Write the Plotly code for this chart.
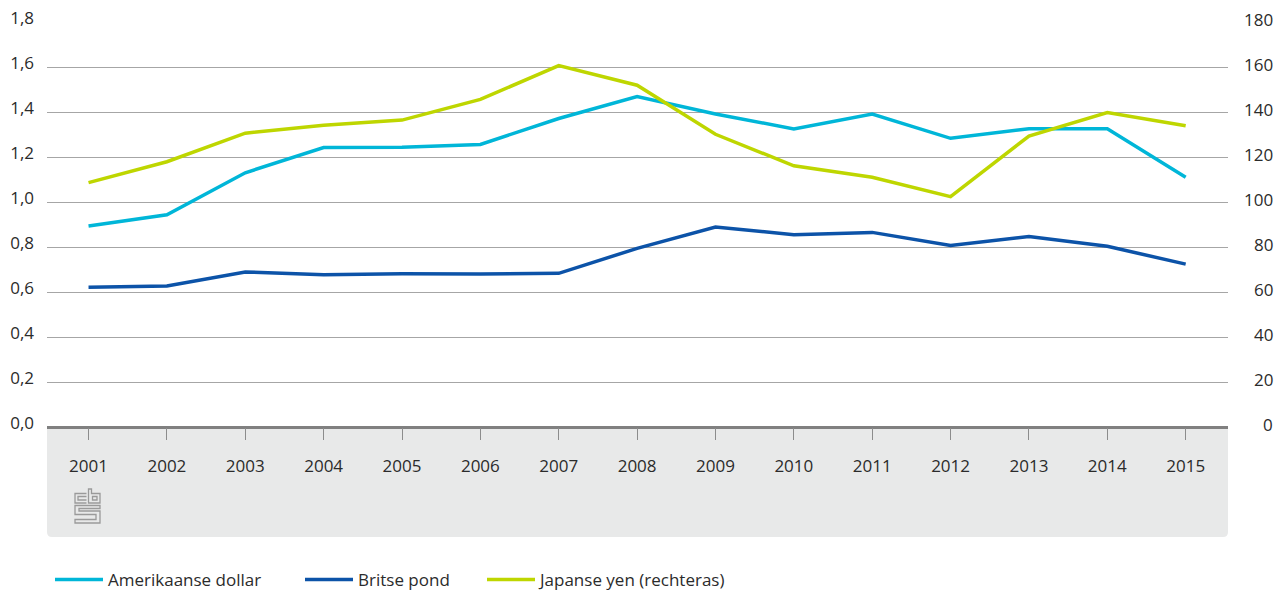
import plotly.graph_objects as go

years = [2001, 2002, 2003, 2004, 2005, 2006, 2007, 2008, 2009, 2010, 2011, 2012, 2013, 2014, 2015]
dollar = [0.893, 0.943, 1.130, 1.242, 1.243, 1.256, 1.371, 1.469, 1.391, 1.325, 1.391, 1.283, 1.326, 1.326, 1.110]
pond = [0.621, 0.627, 0.689, 0.677, 0.681, 0.680, 0.683, 0.794, 0.889, 0.855, 0.865, 0.807, 0.847, 0.803, 0.724]
yen = [108.6, 117.9, 130.6, 134.1, 136.4, 145.6, 160.6, 151.9, 130.1, 116.1, 111.0, 102.4, 129.3, 139.8, 133.9]

left_ticks = [0, 0.2, 0.4, 0.6, 0.8, 1.0, 1.2, 1.4, 1.6, 1.8]
right_ticks = [0, 20, 40, 60, 80, 100, 120, 140, 160, 180]

names = ["Amerikaanse dollar", "Britse pond", "Japanse yen (rechteras)"]
colors = ["#00B6D8", "#0C53A8", "#BED600"]
legend_widths = [187, 119, 200]

W, H = 1277, 592
PL, PR, PT, PB = 47, 1228, 22, 427          # plot area in pixels
L, R, T, B = PL, W - PR, PT, H - PB
PW = W - L - R
PH = H - T - B
FONT = "Open Sans"
FS = 17
TXT = "#2b2b2b"


def px(x):
    return (x - L) / PW


def py(y):
    return (PB - y) / PH


fig = go.Figure()
fig.add_trace(go.Scatter(x=years, y=dollar, name=names[0], mode="lines", legendwidth=legend_widths[0],
                         line=dict(color=colors[0], width=3.5)))
fig.add_trace(go.Scatter(x=years, y=pond, name=names[1], mode="lines", legendwidth=legend_widths[1],
                         line=dict(color=colors[1], width=3.5)))
fig.add_trace(go.Scatter(x=years, y=yen, name=names[2], mode="lines", yaxis="y2", legendwidth=legend_widths[2],
                         line=dict(color=colors[2], width=3.5)))

shapes = []
# grey band under the x axis with rounded bottom corners
x0, x1, y0, y1, r = 47, 1228, 427, 537, 5
band = (f"M {px(x0)} {py(y0)} L {px(x1)} {py(y0)} L {px(x1)} {py(y1 - r)} "
        f"Q {px(x1)} {py(y1)} {px(x1 - r)} {py(y1)} L {px(x0 + r)} {py(y1)} "
        f"Q {px(x0)} {py(y1)} {px(x0)} {py(y1 - r)} Z")
shapes.append(dict(type="path", xref="paper", yref="paper", path=band,
                   fillcolor="#E8E9E9", line=dict(width=0), layer="below"))


def poly(pts, closed=False):
    s = "M " + " L ".join(f"{px(a)} {py(b)}" for a, b in pts)
    return s + (" Z" if closed else "")


logo_paths = [
    poly([(86.5, 493.5), (75, 493.5), (75, 503), (86.5, 503)]),
    poly([(86.5, 496.5), (78, 496.5), (78, 500), (86.5, 500)]),
    poly([(88.5, 489), (88.5, 503), (100, 503), (100, 493.5), (91.5, 493.5), (91.5, 489)], True),
    poly([(92.5, 496.5), (97, 496.5), (97, 500), (92.5, 500)], True),
    poly([(100, 505.5), (75, 505.5), (75, 514.5), (96, 514.5), (96, 519.5), (75, 519.5),
          (75, 523), (100, 523), (100, 511), (79, 511), (79, 508.5), (100, 508.5)], True),
]
for p in logo_paths:
    shapes.append(dict(type="path", xref="paper", yref="paper", path=p,
                       line=dict(color="#9a9a9a", width=1.3)))

annotations = []
for t in right_ticks:
    annotations.append(dict(x=px(1275), y=t, xref="paper", yref="y2", text=str(t),
                            showarrow=False, xanchor="right", yanchor="middle", yshift=3,
                            font=dict(family=FONT, size=FS, color=TXT)))

fig.update_layout(
    width=W, height=H,
    margin=dict(l=L, r=R, t=T, b=B, autoexpand=False),
    paper_bgcolor="white", plot_bgcolor="white",
    separators=",.",
    font=dict(family=FONT, size=FS, color=TXT),
    xaxis=dict(range=[2000.47, 2015.54], tickmode="array", tickvals=years,
               ticktext=[str(y) for y in years], showgrid=False, zeroline=False,
               showline=False, ticks="outside", ticklen=12, tickcolor="#8c8c8c",
               tickwidth=1.3, ticklabelstandoff=12, automargin=False,
               tickfont=dict(family=FONT, size=FS, color=TXT)),
    yaxis=dict(range=[0, 1.8], tickmode="array", tickvals=left_ticks,
               tickformat=".1f", showgrid=True, gridcolor="#a6a6a6", gridwidth=1,
               zeroline=True, zerolinecolor="#808080", zerolinewidth=3,
               showline=False, ticks="", ticklabelstandoff=12, ticklabelshift=-4,
               automargin=False,
               tickfont=dict(family=FONT, size=FS, color=TXT)),
    yaxis2=dict(range=[0, 180], overlaying="y", side="right", showgrid=False,
                zeroline=False, showticklabels=False, ticks="", automargin=False),
    showlegend=True,
    legend=dict(orientation="h", x=px(50), y=py(580), xanchor="left", yanchor="middle",
                font=dict(family=FONT, size=FS, color=TXT), itemwidth=48,
                bgcolor="rgba(0,0,0,0)"),
    shapes=shapes,
    annotations=annotations,
)

fig.write_html(
    "out.html",
    config={"displayModeBar": False},
    post_script="document.body.style.margin='0';document.body.style.overflow='hidden';",
)
